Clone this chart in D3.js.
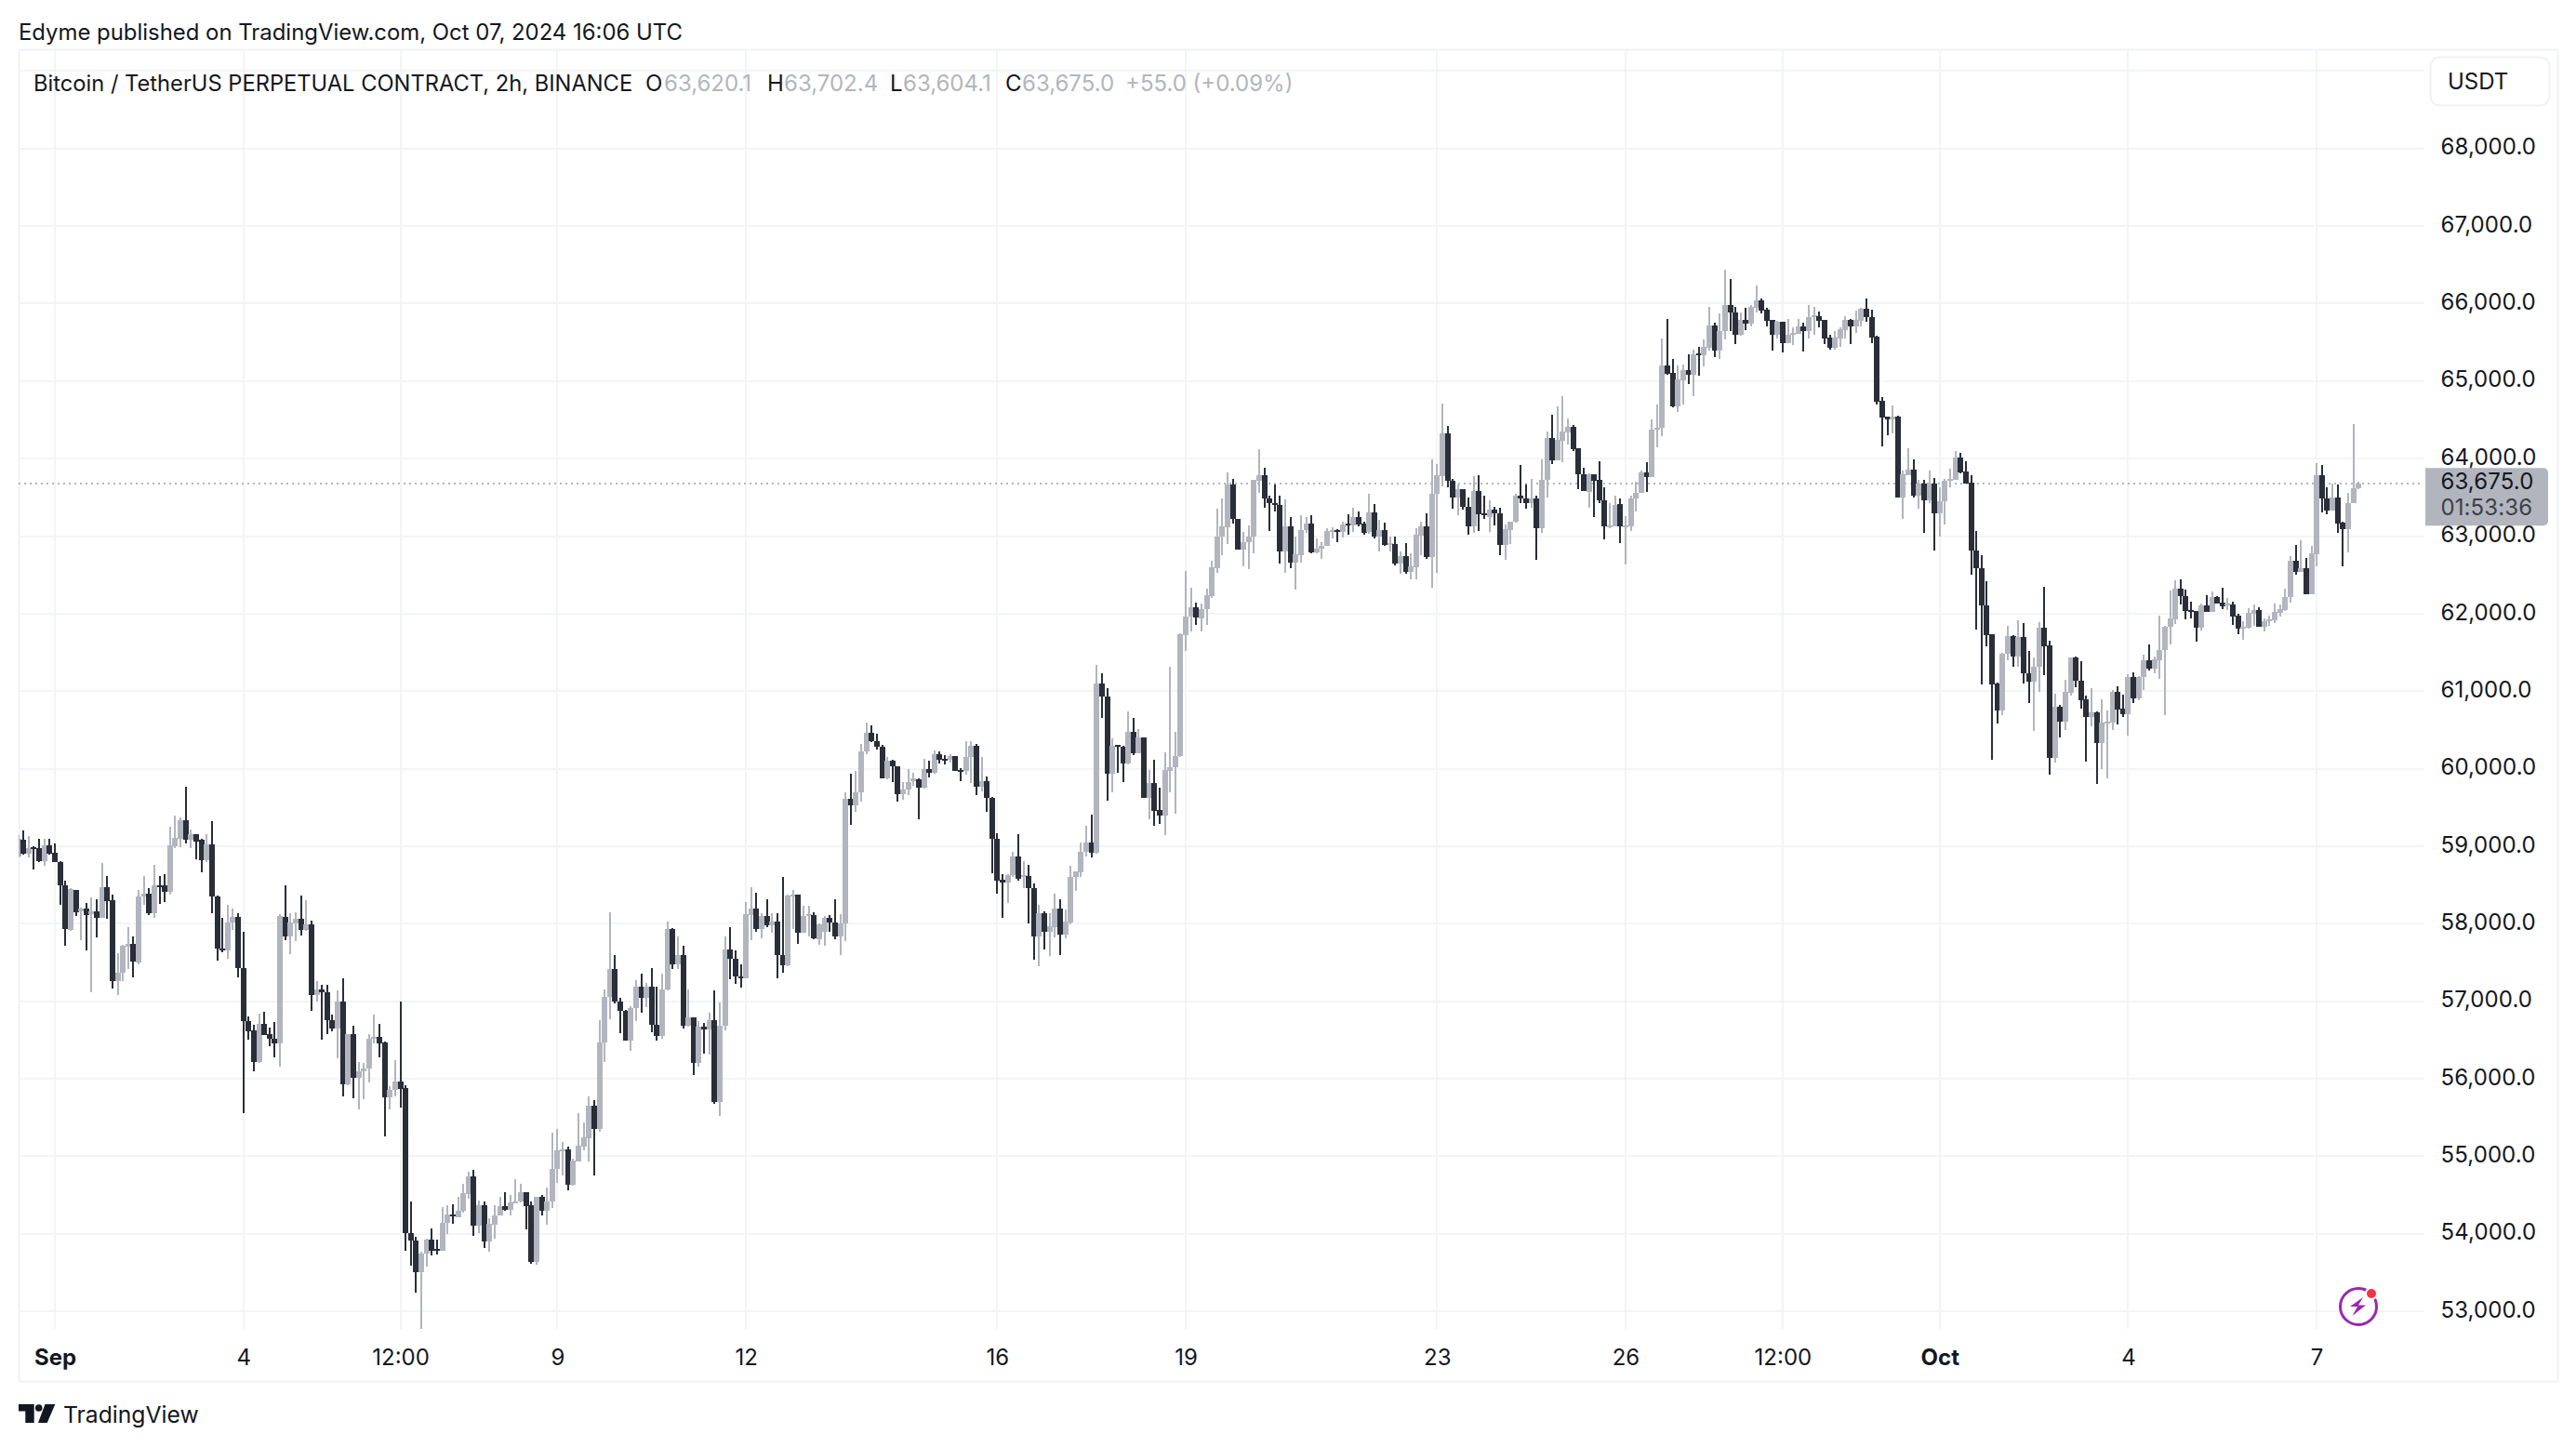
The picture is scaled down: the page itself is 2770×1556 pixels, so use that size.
<!DOCTYPE html>
<html>
<head>
<meta charset="utf-8">
<title>BTCUSDT.P 2h</title>
<script src="https://cdn.jsdelivr.net/npm/d3@7/dist/d3.min.js"></script>
<style>
html,body{margin:0;padding:0;background:#fff}
svg{display:block}
text{font-family:Inter,"Liberation Sans",sans-serif;fill:#131722}
</style>
</head>
<body>
<div id="chart"></div>
<script>
// one value per 2h candle, first one is Aug 31 10:00
var opens = [
58870,59085,58900,58990,58970,58810,59010,58920,58800,58490,
57920,58440,58160,58190,58120,58160,58070,58470,58300,57260,
57370,57700,57740,57500,58350,58390,58140,58500,58490,58410,
59000,59100,59330,59080,59150,59080,58820,59020,58350,57680,
57650,58020,58090,57430,56740,56620,56210,56710,56570,56520,
56450,58090,57840,58000,58060,57920,57990,57080,57150,57120,
56750,56650,57000,55930,56570,56010,56100,56130,56510,56540,
56470,55760,55850,55960,55880,54010,53910,53500,53740,53920,
53800,53780,54140,54250,54210,54290,54510,54740,54100,54370,
53900,54120,54240,54360,54310,54400,54410,54530,54370,53640,
54470,54290,54410,54840,55070,55090,54630,54930,55120,55230,
55650,55350,56470,57060,57420,57000,56870,56490,56910,57190,
57040,57190,56700,56550,57150,57930,57470,57600,56680,56790,
56200,56670,56640,56760,55700,56680,57670,57550,57320,57300,
58110,58190,57930,58100,57980,58030,57590,57460,58360,58370,
57880,58100,58110,57800,57890,58080,58020,57840,58000,59610,
59530,59690,60220,60460,60360,60280,59880,60100,60030,59670,
59730,59840,59860,59760,59990,59950,60190,60130,60110,60160,
59980,59970,60150,60300,59770,59840,59620,59100,58570,58530,
58630,58870,58610,58620,58460,57840,58140,57900,57960,58190,
57860,58020,58600,58660,58930,59050,58920,61100,60930,59930,
60310,60280,60070,60480,60200,60400,59620,59820,59470,59390,
59970,60020,60160,61720,61960,62080,61940,62060,62230,62590,
63000,63110,63670,63220,62830,62920,63000,63710,63780,63480,
63430,63400,62800,63120,62660,62760,63080,63160,62790,62840,
62870,63050,63080,63050,63160,63140,63250,63160,63050,63310,
63000,63080,62890,62900,62650,62740,62540,62600,63010,63120,
62730,63540,63770,64320,63710,63500,63600,63380,63130,63580,
63290,63250,63340,63290,62890,63080,63180,63520,63480,63430,
63480,63100,63720,64270,63980,64230,64340,64410,64130,63800,
63570,63800,63720,63460,63130,63130,63410,63120,63120,63480,
63560,63820,63760,64370,64400,65200,65100,64670,65010,65140,
65080,65360,65330,65430,65720,65390,65640,65980,65880,65600,
65790,65740,65950,66040,65920,65790,65600,65760,65490,65600,
65610,65700,65640,65820,65840,65790,65560,65430,65550,65660,
65790,65700,65780,65930,65830,65570,64740,64540,64500,64540,
63500,63790,63860,63520,63680,63460,63680,63290,63450,63710,
63730,64010,63830,63690,62820,62590,62110,61730,61100,60750,
61480,61710,61450,61700,61230,61120,61310,61820,61590,60140,
60800,60610,60980,61430,61140,60890,60670,60730,60330,60590,
60600,60990,60770,60700,61180,60910,61180,61400,61290,61400,
61530,61830,61930,62320,62230,62050,62030,61820,62110,62020,
62220,62140,62120,62120,61970,61810,61820,62000,62050,61830,
61900,61910,62010,62050,62210,62680,62540,62590,62250,62770,
63790,63480,63330,63500,63170,63090,63420,63620.1
]
var closes = [
59090,58900,58970,58980,58810,59010,58900,58790,58490,57930,
58450,58150,58200,58110,58160,58070,58470,58290,57260,57370,
57720,57740,57510,58350,58390,58140,58500,58490,58410,59010,
59110,59340,59080,59160,59060,58820,59020,58350,57680,57650,
58020,58090,57430,56740,56610,56210,56710,56560,56520,56450,
58100,57840,58020,58060,57920,57990,57080,57150,57120,56750,
56650,57000,55930,56570,56010,56100,56130,56520,56540,56450,
55760,55850,55960,55870,54010,53910,53500,53740,53920,53780,
53780,54140,54250,54220,54290,54520,54740,54100,54370,53900,
54130,54240,54360,54310,54400,54420,54530,54360,53630,54470,
54290,54410,54840,55070,55090,54630,54940,55130,55240,55650,
55350,56470,57060,57420,57000,56870,56490,56910,57190,57040,
57190,56700,56550,57150,57930,57470,57600,56680,56790,56200,
56670,56640,56760,55700,56680,57670,57550,57320,57300,58120,
58190,57930,58100,57980,58030,57590,57460,58360,58370,57880,
58100,58120,57810,57990,58080,58010,57840,58000,59610,59530,
59700,60220,60460,60350,60280,59880,60100,60030,59670,59730,
59830,59870,59760,59990,59950,60190,60110,60120,60160,59970,
59970,60150,60300,59770,59840,59620,59090,58560,58530,58630,
58870,58580,58630,58460,57840,58140,57900,57970,58190,57860,
58030,58600,58670,58930,59050,58920,61100,60930,59930,60300,
60290,60070,60480,60200,60400,59620,59820,59460,59390,59980,
60020,60160,61730,61960,62080,61950,62060,62240,62600,63000,
63120,63670,63220,62830,62920,63000,63720,63780,63480,63430,
63400,62800,63120,62660,62770,63080,63160,62790,62840,62880,
63060,63080,63050,63150,63140,63250,63150,63040,63310,62990,
63080,62890,62910,62650,62740,62540,62610,63020,63120,62730,
63550,63780,64320,63710,63500,63600,63380,63130,63580,63280,
63280,63340,63290,62890,63090,63180,63520,63480,63430,63480,
63100,63720,64270,63980,64240,64350,64410,64120,63800,63580,
63800,63710,63460,63130,63140,63400,63120,63140,63480,63560,
63820,63760,64370,64400,65200,65090,64670,65020,65140,65080,
65340,65340,65440,65720,65390,65640,65980,65880,65600,65790,
65740,65960,66040,65910,65780,65600,65760,65490,65600,65620,
65700,65640,65820,65850,65780,65550,65430,65560,65670,65790,
65700,65790,65930,65830,65560,64730,64530,64500,64540,63500,
63800,63860,63520,63680,63460,63680,63290,63450,63710,63740,
64010,63820,63680,62820,62590,62110,61720,61090,60750,61480,
61710,61450,61700,61230,61120,61320,61820,61580,60140,60800,
60610,60990,61430,61140,60880,60670,60730,60330,60600,60610,
60990,60760,60700,61180,60910,61180,61400,61290,61410,61530,
61830,61940,62320,62230,62040,62030,61820,62110,62020,62220,
62130,62100,62130,61960,61810,61830,62010,62050,61830,61900,
61930,62020,62060,62220,62680,62540,62590,62250,62780,63790,
63480,63330,63500,63160,63090,63430,63620,63675
]
var highs = [
59140,59200,59130,59000,59090,59100,59090,59040,58810,58560,
58460,58440,58210,58270,58340,58310,58780,58610,58380,57620,
57730,57950,57840,58430,58620,58460,58760,58620,58640,59250,
59400,59370,59770,59220,59150,59100,59160,59320,58360,58070,
58240,58200,58140,57900,56800,56690,56840,56860,56660,56730,
58120,58490,58140,58150,58360,58300,58040,57260,57210,57210,
56830,57140,57290,56580,56680,56220,56200,56570,56830,56710,
56480,55900,56240,57000,55920,54410,53960,53770,53930,54070,
53920,54340,54370,54380,54470,54640,54800,54820,54430,54410,
54200,54370,54470,54540,54500,54700,54640,54540,54410,54480,
54500,54600,55300,55350,55180,55120,54970,55550,55430,55770,
55720,56750,57150,58150,57590,57040,56890,56940,57270,57360,
57230,57430,57190,57350,58030,57940,57840,57720,57150,56790,
56740,56720,56850,57140,56980,57840,57950,57650,57480,58280,
58470,58400,58140,58310,58130,58140,58600,58380,58430,58370,
58230,58230,58150,58000,58100,58110,58320,58120,59700,59940,
59970,60320,60590,60560,60450,60310,60150,60110,60030,59830,
59990,59950,59880,60130,60100,60240,60220,60180,60190,60160,
60010,60350,60360,60320,60150,59900,59640,59170,58640,58640,
58930,59160,58810,58760,58520,58240,58160,58140,58390,58320,
58180,58750,58680,59050,59260,59410,61340,61230,61040,60390,
60310,60300,60740,60660,60510,60400,59980,60120,59750,60210,
61320,60470,61750,62550,62330,62140,62130,62320,62680,63350,
63480,63820,63740,63220,63050,63140,63720,64120,63880,63520,
63660,63520,63470,63240,63000,63270,63240,63270,62970,62920,
63100,63110,63090,63180,63280,63370,63320,63180,63540,63410,
63210,63170,63000,63000,62800,62910,62780,63100,63180,63290,
63990,63930,64710,64420,63740,63660,63610,63500,63770,63780,
63520,63460,63380,63360,63150,63190,63540,63920,63660,63740,
63520,63990,64350,64570,64670,64800,64520,64430,64130,63880,
63810,63800,63960,63630,63430,63520,63480,63260,63520,63700,
63840,63950,64500,64700,65550,65800,65280,65200,65210,65350,
65410,65440,65540,65960,65750,65870,66440,66320,65960,65890,
65950,65980,66230,66060,65940,65790,65780,65770,65800,65690,
65800,65750,65980,65960,65900,65790,65600,65640,65690,65840,
65800,65910,65940,66060,65920,65580,64790,64540,64680,64550,
63840,64130,63990,63720,63720,63840,63750,63630,63740,63870,
64100,64070,63960,63780,63060,62760,62420,61740,61110,61500,
61840,61720,61920,61880,61520,61440,61890,62350,61650,60970,
60820,61150,61440,61450,61390,60940,61040,60740,60900,60750,
61020,61060,60960,61220,61240,61200,61470,61600,61450,61980,
61840,62300,62430,62440,62310,62160,62030,62130,62240,62290,
62230,62340,62200,62160,62000,61900,62070,62120,62080,61940,
61980,62130,62120,62320,62740,62890,62950,62720,62880,63940,
63920,63630,63680,63670,63190,63560,64440,63702.4
]
var lows = [
58850,58890,58850,58700,58790,58750,58890,58790,58240,57720,
57910,58100,57790,57650,57120,57820,58070,58060,57160,57080,
57260,57420,57310,57480,58240,58110,58070,58260,58280,58380,
58970,58990,59040,58970,58830,58660,58800,58140,57520,57630,
57550,57920,57310,55550,56500,56100,56200,56560,56420,56280,
56150,57790,57610,57770,57850,57910,56870,57000,56500,56580,
56610,56260,55770,55920,55750,55600,55740,55950,56460,56270,
55250,55600,55770,55630,53780,53590,53240,52550,53570,53720,
53730,53780,53990,54130,54210,54270,54450,53970,54010,53820,
53770,53930,54230,54300,54230,54400,54400,54050,53610,53600,
54240,54120,54330,54660,54750,54560,54620,54930,55070,54930,
54750,55310,56220,56770,56970,56590,56490,56360,56740,56850,
56920,56600,56490,56520,57140,57420,57420,56650,56670,56050,
56150,56320,56310,55680,55520,56620,57280,57220,57170,57290,
57790,57890,57810,57960,57880,57300,57370,57450,57930,57740,
57880,57830,57800,57730,57710,57890,57800,57590,57770,59280,
59440,59580,60190,60340,60250,59880,59860,59830,59570,59600,
59660,59780,59350,59740,59890,59940,60070,60050,60080,59970,
59840,59920,59820,59660,59710,59440,58650,58390,58080,58270,
58600,58550,58460,58000,57540,57450,57670,57580,57820,57590,
57810,57990,58420,58600,58870,58850,58900,60650,59590,59690,
59950,59830,60050,60170,60200,59620,59350,59260,59290,59140,
59690,59420,60150,61520,61770,61860,61770,61850,62200,62530,
62750,62900,63160,62830,62610,62580,62780,63560,63360,63070,
63320,62650,62530,62590,62310,62660,63040,62780,62780,62710,
62870,62970,62920,62980,63020,63050,63130,63020,63030,62970,
62800,62880,62800,62620,62520,62520,62440,62440,62760,62710,
62340,62530,63640,63630,63350,63270,63340,63020,63040,63070,
63220,63050,63140,62750,62690,62900,63170,63430,63350,63360,
62690,63040,63500,63930,63980,63950,64180,64100,63610,63580,
63370,63240,63420,62960,63100,63130,62910,62640,63060,63320,
63560,63570,63760,64140,64290,65080,64660,64600,64700,64960,
64800,65070,65190,65390,65310,65290,65540,65640,65480,65580,
65660,65700,65880,65870,65710,65390,65550,65370,65490,65460,
65610,65380,65550,65600,65690,65480,65410,65410,65440,65550,
65480,65620,65700,65760,65490,64700,64160,64300,64320,63500,
63220,63790,63500,63350,63040,63420,62820,63000,63150,63630,
63730,63810,63680,62500,61800,61090,61580,60120,60580,60690,
61400,61320,61320,61100,60850,60490,60990,61210,59920,60080,
60400,60500,60940,61050,60780,60090,60550,59800,60000,59880,
60500,60570,60670,60430,60850,60880,61020,61270,61230,61160,
60690,61600,61870,62120,61930,61940,61640,61780,62020,62020,
62130,62060,62050,61860,61740,61660,61810,61840,61830,61770,
61840,61880,61960,62040,62140,62500,62540,62250,62250,62610,
63300,63280,63330,63040,62610,62790,63420,63604.1
]

var priceTicks = [53000,54000,55000,56000,57000,58000,59000,60000,61000,62000,63000,64000,65000,66000,67000,68000]
var gridPrices = priceTicks.concat([69000])
var timeTicks = [7,43,73,103,139,187,223,271,307,337,367,403,439]
var timeLabels = ['Sep','4','12:00','9','12','16','19','23','26','12:00','Oct','4','7']
var boldLabels = ['Sep','Oct']
var lastPrice = 63675
var countdown = '01:53:36'
var legendItems = [
	{t:'Bitcoin / TetherUS PERPETUAL CONTRACT, 2h, BINANCE', x:36, c:'#131722', s:23.7},
	{t:'O', x:694, c:'#131722', s:24}, {t:'63,620.1', x:714, c:'#b2b5be', s:24},
	{t:'H', x:825, c:'#131722', s:24}, {t:'63,702.4', x:843, c:'#b2b5be', s:24},
	{t:'L', x:957, c:'#131722', s:24}, {t:'63,604.1', x:971, c:'#b2b5be', s:24},
	{t:'C', x:1081, c:'#131722', s:24}, {t:'63,675.0', x:1099, c:'#b2b5be', s:24},
	{t:'+55.0 (+0.09%)', x:1210, c:'#b2b5be', s:24}
]

var width = 2770, height = 1556
var pane = {left:20, right:2606, top:54, bottom:1429}
var upColor = '#b2b5be', downColor = '#2a2e39', gridColor = '#f3f4f6', frameColor = '#f0f1f7'

var x = d3.scaleLinear().domain([0,447]).range([19.6,2536.2])
var y = d3.scaleLinear().domain([53000,69000]).range([1410,76.4])

var svg = d3.select('#chart').append('svg')
	.attr('width', width)
	.attr('height', height)

svg.append('rect').attr('width', width).attr('height', height).attr('fill', '#fff')

svg.append('defs').append('clipPath').attr('id','paneClip').append('rect')
	.attr('x', pane.left).attr('y', pane.top)
	.attr('width', pane.right-pane.left).attr('height', pane.bottom-pane.top)

// frame
svg.append('rect')
	.attr('x', 20.5).attr('y', 53.5).attr('width', 2730).attr('height', 1432)
	.attr('fill','none').attr('stroke', frameColor).attr('stroke-width', 2)

// grid
var grid = svg.append('g').attr('shape-rendering','crispEdges').attr('stroke', gridColor).attr('stroke-width', 2)
grid.selectAll('line.h').data(gridPrices).enter().append('line').attr('class','h')
	.attr('x1', pane.left).attr('x2', pane.right)
	.attr('y1', d=>Math.round(y(d))).attr('y2', d=>Math.round(y(d)))
grid.selectAll('line.v').data(timeTicks).enter().append('line').attr('class','v')
	.attr('x1', d=>Math.round(x(d))).attr('x2', d=>Math.round(x(d)))
	.attr('y1', pane.top).attr('y2', pane.bottom)

// last price line
svg.append('line')
	.attr('x1', pane.left).attr('x2', pane.right)
	.attr('y1', Math.round(y(lastPrice))).attr('y2', Math.round(y(lastPrice)))
	.attr('stroke', upColor).attr('stroke-width', 2).attr('stroke-dasharray','2 4')
	.attr('shape-rendering','crispEdges')

// candles
var candles = svg.append('g').attr('clip-path','url(#paneClip)').attr('shape-rendering','crispEdges')
var g = candles.selectAll('g').data(opens).enter().append('g')
	.attr('fill', (d,i)=>closes[i] >= opens[i] ? upColor : downColor)
g.append('rect')
	.attr('x', (d,i)=>Math.round(x(i))-1)
	.attr('width', 2)
	.attr('y', (d,i)=>y(highs[i]))
	.attr('height', (d,i)=>y(lows[i])-y(highs[i]))
g.append('rect')
	.attr('x', (d,i)=>Math.round(x(i))-3)
	.attr('width', 6)
	.attr('y', (d,i)=>y(Math.max(opens[i],closes[i])))
	.attr('height', (d,i)=>Math.max(2, Math.abs(y(opens[i])-y(closes[i]))))

// price axis
var yAxis = d3.axisRight(y).tickValues(priceTicks).tickSize(0).tickPadding(0).tickFormat(d3.format(',.1f'))
var yg = svg.append('g').attr('transform','translate(2624.5,-1.5)').call(yAxis)
yg.select('.domain').remove()
yg.selectAll('text').style('font-size','24px').style('font-family','Inter').style('letter-spacing','.1px').attr('fill','#131722')

// time axis
var xAxis = d3.axisBottom(x).tickValues(timeTicks).tickSize(0).tickPadding(0).tickFormat((d,i)=>timeLabels[i])
var xg = svg.append('g').attr('transform','translate(0,1451)').call(xAxis)
xg.select('.domain').remove()
xg.selectAll('text').style('font-size','24px').style('font-family','Inter').attr('fill','#131722')
	.style('font-weight',(d,i)=>boldLabels.indexOf(timeLabels[i]) >= 0 ? 700 : 400)

// last price tag
var tagY = y(lastPrice)
svg.append('path')
	.attr('d','M2608,'+(tagY-17)+'H2735a5,5 0 0 1 5,5V'+(tagY+40)+'a5,5 0 0 1 -5,5H2608Z')
	.attr('fill', upColor)
svg.append('text').attr('x',2624.5).attr('y',tagY-3).attr('dy','.35em')
	.style('font-size','24px').style('letter-spacing','.1px').text(d3.format(',.1f')(lastPrice))
svg.append('text').attr('x',2624.5).attr('y',tagY+25.5).attr('dy','.35em')
	.style('font-size','24px').style('letter-spacing','.1px').style('fill','#3d4047').text(countdown)

// header
svg.append('text').attr('x',20).attr('y',35).attr('dy','.35em')
	.style('font-size','23.9px').text('Edyme published on TradingView.com, Oct 07, 2024 16:06 UTC')

svg.selectAll('text.legend').data(legendItems).enter().append('text')
	.attr('class','legend')
	.attr('x', d=>d.x).attr('y',90).attr('dy','.35em')
	.style('font-size', d=>d.s+'px').style('fill', d=>d.c)
	.text(d=>d.t)

// currency button
svg.append('rect').attr('x',2613.5).attr('y',61.5).attr('width',128).attr('height',52).attr('rx',10)
	.attr('fill','#fff').attr('stroke',frameColor).attr('stroke-width',2)
svg.append('text').attr('x',2632).attr('y',88).attr('dy','.35em').style('font-size','24px').text('USDT')

// bolt badge
var badge = svg.append('g')
badge.append('circle').attr('cx',2536).attr('cy',1405).attr('r',19.5)
	.attr('fill','#fff').attr('stroke','#9c27b0').attr('stroke-width',3)
badge.append('path').attr('d','M2541,1395L2527,1405H2535L2529.5,1415L2544,1403.5H2536Z').attr('fill','#9c27b0')
badge.append('circle').attr('cx',2550).attr('cy',1391).attr('r',7).attr('fill','#fff')
badge.append('circle').attr('cx',2550).attr('cy',1391).attr('r',5).attr('fill','#f23645')

// logo
var logo = svg.append('g').attr('fill','#131722')
logo.append('path').attr('d','M20,1510H36.7V1530H27.3V1517.5H20Z')
logo.append('circle').attr('cx',41.7).attr('cy',1514).attr('r',3.8)
logo.append('path').attr('d','M48.5,1510H59.3L50.7,1530H41Z')
svg.append('text').attr('x',68).attr('y',1521).attr('dy','.35em')
	.style('font-size','24.7px').text('TradingView')
</script>
</body>
</html>
